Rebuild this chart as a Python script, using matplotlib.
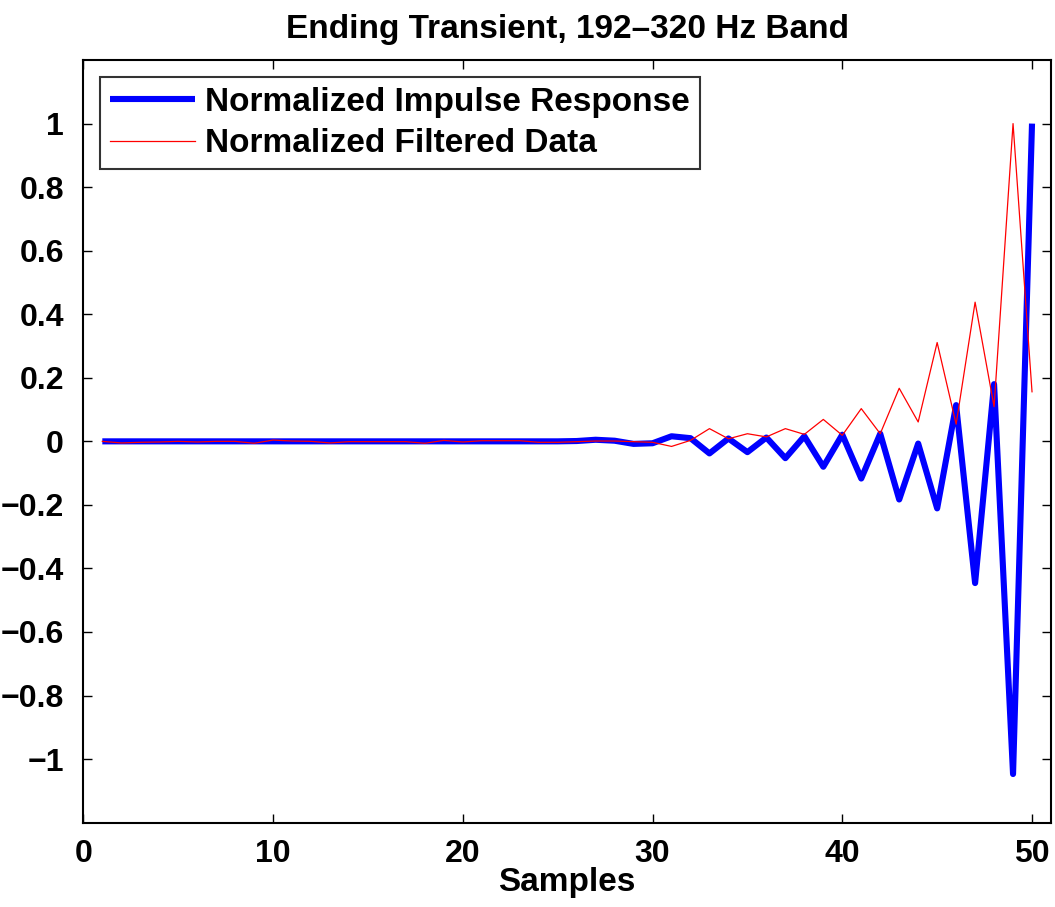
import numpy as np
from matplotlib import pyplot as plt
from matplotlib.ticker import FuncFormatter

### Data ###
samples = np.arange(1, 51)

impulse = [0.000, 0.000, 0.000, 0.000, 0.000, 0.000, 0.000, 0.000, 0.000, 0.000,
           0.000, 0.000, 0.000, 0.000, 0.000, 0.000, 0.000, 0.000, 0.000, 0.000,
           0.000, 0.000, 0.000, 0.000, 0.000, 0.001, 0.005, 0.002, -0.008, -0.006,
           0.016, 0.010, -0.038, 0.009, -0.034, 0.012, -0.053, 0.016, -0.080, 0.021,
           -0.117, 0.024, -0.183, -0.007, -0.211, 0.114, -0.446, 0.180, -1.047, 1.000]

filtered = [0.000, -0.005, -0.003, -0.002, 0.000, -0.002, 0.000, 0.000, -0.006, 0.004,
            0.001, 0.000, -0.005, -0.001, -0.001, -0.001, -0.001, -0.006, 0.003, -0.002,
            0.002, 0.002, 0.002, -0.003, -0.003, -0.001, 0.001, 0.001, -0.001, -0.003,
            -0.016, 0.003, 0.040, 0.008, 0.024, 0.014, 0.040, 0.022, 0.069, 0.019,
            0.103, 0.024, 0.167, 0.061, 0.311, 0.054, 0.438, 0.109, 1.000, 0.156]

labels = ['Normalized Impulse Response', 'Normalized Filtered Data']
title = 'Ending Transient, 192\u2013320 Hz Band'
#############

plt.rcParams['font.family'] = ['Liberation Sans', 'DejaVu Sans']
plt.rcParams['font.weight'] = 'bold'


def fmt(v, _):
    if abs(v) < 1e-9:
        return '0'
    return f'{v:g}'.replace('-', '\u2212')


fig = plt.figure(figsize=(10.55, 9.07), dpi=100)
ax = fig.add_axes((0.079, 0.093, 0.9172, 0.8408))

ax.plot(samples, impulse, color='#0000ff', lw=4.4, solid_joinstyle='round',
        solid_capstyle='butt', label=labels[0])
ax.plot(samples, filtered, color='#ff0000', lw=0.9, label=labels[1])

ax.set_xlim(0, 51)
ax.set_ylim(-1.2, 1.2)
ax.set_xticks(np.arange(0, 51, 10))
ax.set_yticks(np.round(np.arange(-1, 1.01, 0.2), 1))
ax.yaxis.set_major_formatter(FuncFormatter(fmt))

ax.tick_params(direction='in', length=6.5, width=1, top=True, right=True,
               labelsize=23)
ax.tick_params(axis='y', pad=14)
ax.tick_params(axis='x', pad=12)
for lab in ax.get_xticklabels() + ax.get_yticklabels():
    lab.set_fontweight('bold')
for s in ax.spines.values():
    s.set_linewidth(1.5)

ax.set_title(title, fontsize=24, fontweight='bold', pad=16)
ax.set_xlabel('Samples', fontsize=24, fontweight='bold', labelpad=-2)

leg = ax.legend(loc='upper left', fontsize=24, frameon=True, fancybox=False,
                edgecolor='black', handlelength=2.55, borderaxespad=0.5,
                borderpad=0.3, labelspacing=0.32, handletextpad=0.3)
leg.get_frame().set_linewidth(1.5)
for t in leg.get_texts():
    t.set_fontweight('bold')

fig.savefig('out.png', dpi=100)
